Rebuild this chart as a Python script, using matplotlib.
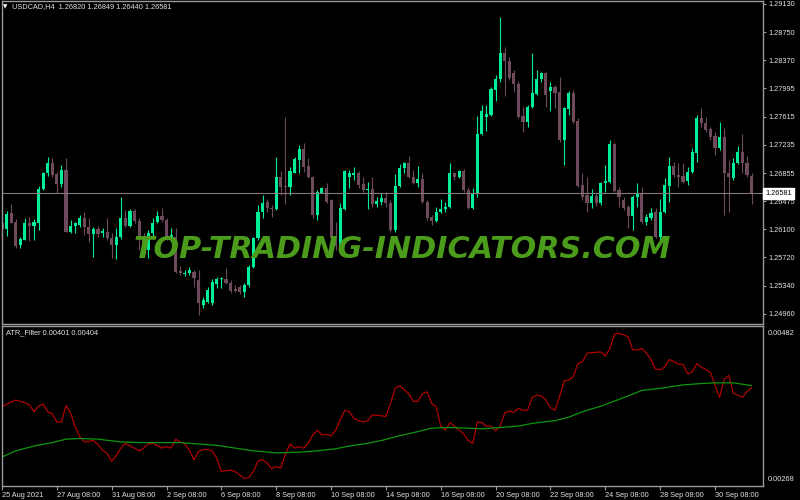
# USDCAD H4 candles with ATR_Filter sub-window (MT4 style)
import matplotlib
matplotlib.use('Agg')
import matplotlib.pyplot as plt
import matplotlib.transforms as mtransforms

# OHLC for each H4 bar
opens = [1.26182, 1.26102, 1.26317, 1.26196, 1.25886, 1.25954, 1.26182, 1.26142, 1.26182, 1.26640,
         1.26855, 1.26990, 1.26842, 1.26707, 1.26896, 1.26061, 1.26142, 1.26156, 1.26250, 1.26129,
         1.26034, 1.26102, 1.26048, 1.26061, 1.25980, 1.25886, 1.25994, 1.26250, 1.26142, 1.26344,
         1.26209, 1.25994, 1.25819, 1.26048, 1.26196, 1.26277, 1.26223, 1.25954, 1.25994, 1.25536,
         1.25496, 1.25509, 1.25523, 1.25415, 1.25079, 1.25119, 1.25106, 1.25361, 1.25429, 1.25429,
         1.25375, 1.25294, 1.25321, 1.25254, 1.25348, 1.25590, 1.25980, 1.26330, 1.26465, 1.26384,
         1.26371, 1.26802, 1.26680, 1.26667, 1.26855, 1.27030, 1.27178, 1.26950, 1.26802, 1.26290,
         1.26586, 1.26653, 1.26492, 1.25980, 1.25846, 1.26371, 1.26802, 1.26828, 1.26855, 1.26707,
         1.26627, 1.26640, 1.26438, 1.26465, 1.26519, 1.26452, 1.26088, 1.26680, 1.26923, 1.26990,
         1.26802, 1.26721, 1.26775, 1.26465, 1.26263, 1.26209, 1.26330, 1.26371, 1.26398, 1.26855,
         1.26802, 1.26882, 1.26627, 1.26384, 1.26586, 1.27380, 1.27609, 1.27636, 1.27973, 1.28121,
         1.28471, 1.28363, 1.28201, 1.28053, 1.27623, 1.27542, 1.27744, 1.27919, 1.28121, 1.28201,
         1.27959, 1.28013, 1.27946, 1.27300, 1.27717, 1.27932, 1.27555, 1.26694, 1.26559, 1.26452,
         1.26546, 1.26452, 1.26721, 1.26734, 1.27246, 1.26627, 1.26492, 1.26398, 1.26277, 1.26532,
         1.26586, 1.26196, 1.26250, 1.26330, 1.25994, 1.26330, 1.26680, 1.26950, 1.26828, 1.26815,
         1.26748, 1.26869, 1.27125, 1.27596, 1.27528, 1.27448, 1.27353, 1.27192, 1.27340, 1.26855,
         1.26788, 1.26990, 1.27138, 1.26990, 1.26820]
highs = [1.26250, 1.26344, 1.26438, 1.26236, 1.25994, 1.26250, 1.26263, 1.26236, 1.26680, 1.26869,
         1.27071, 1.27057, 1.26869, 1.26963, 1.27057, 1.26223, 1.26196, 1.26290, 1.26330, 1.26250,
         1.26129, 1.26142, 1.26115, 1.26250, 1.26048, 1.26115, 1.26532, 1.26357, 1.26371, 1.26371,
         1.26250, 1.26048, 1.26088, 1.26250, 1.26344, 1.26384, 1.26250, 1.26115, 1.26115, 1.25604,
         1.25550, 1.25590, 1.25550, 1.25550, 1.25186, 1.25321, 1.25429, 1.25456, 1.25456, 1.25577,
         1.25415, 1.25348, 1.25348, 1.25375, 1.25617, 1.25994, 1.26425, 1.26559, 1.26505, 1.26425,
         1.27071, 1.26882, 1.27609, 1.26936, 1.27071, 1.27232, 1.27259, 1.27057, 1.26815, 1.26627,
         1.26667, 1.26721, 1.26505, 1.26196, 1.26452, 1.26896, 1.26896, 1.26936, 1.26882, 1.26802,
         1.26734, 1.26802, 1.26532, 1.26586, 1.26600, 1.26492, 1.26842, 1.26977, 1.27003, 1.27084,
         1.26896, 1.26950, 1.26855, 1.26492, 1.26290, 1.26398, 1.26505, 1.26465, 1.26990, 1.26869,
         1.26896, 1.26909, 1.26667, 1.26653, 1.27623, 1.27771, 1.27771, 1.28013, 1.28175, 1.28955,
         1.28551, 1.28417, 1.28242, 1.28094, 1.27744, 1.27771, 1.28471, 1.28242, 1.28215, 1.28215,
         1.28080, 1.28040, 1.28148, 1.27744, 1.27959, 1.27973, 1.27596, 1.26855, 1.26802, 1.26640,
         1.26586, 1.26734, 1.26963, 1.27300, 1.27259, 1.26667, 1.26532, 1.26425, 1.26559, 1.26721,
         1.26667, 1.26304, 1.26384, 1.26384, 1.26505, 1.26788, 1.27071, 1.27003, 1.26990, 1.26990,
         1.26936, 1.27192, 1.27636, 1.27730, 1.27609, 1.27475, 1.27407, 1.27542, 1.27461, 1.27030,
         1.27057, 1.27219, 1.27380, 1.27084, 1.26849]
lows = [1.25994, 1.26007, 1.26182, 1.25846, 1.25846, 1.25954, 1.25940, 1.25954, 1.26088, 1.26627,
        1.26815, 1.26802, 1.26586, 1.26667, 1.26061, 1.26048, 1.26048, 1.26129, 1.26021, 1.25927,
        1.25725, 1.25994, 1.25994, 1.25954, 1.25711, 1.25698, 1.25967, 1.26129, 1.26129, 1.26182,
        1.25819, 1.25779, 1.25711, 1.25994, 1.26182, 1.26196, 1.25954, 1.25927, 1.25509, 1.25482,
        1.25469, 1.25482, 1.25321, 1.24944, 1.25038, 1.25106, 1.25079, 1.25307, 1.25307, 1.25361,
        1.25240, 1.25254, 1.25227, 1.25186, 1.25321, 1.25577, 1.25954, 1.26250, 1.26330, 1.26263,
        1.26357, 1.26559, 1.26438, 1.26559, 1.26855, 1.26855, 1.26869, 1.26788, 1.26250, 1.26223,
        1.26586, 1.26452, 1.25954, 1.25819, 1.25819, 1.26357, 1.26653, 1.26761, 1.26653, 1.26600,
        1.26371, 1.26398, 1.26398, 1.26425, 1.26398, 1.26061, 1.26061, 1.26667, 1.26855, 1.26788,
        1.26707, 1.26667, 1.26452, 1.26223, 1.26156, 1.26196, 1.26317, 1.26330, 1.26384, 1.26761,
        1.26788, 1.26600, 1.26371, 1.26371, 1.26532, 1.27367, 1.27421, 1.27623, 1.27825, 1.28080,
        1.27892, 1.28107, 1.27946, 1.27596, 1.27407, 1.27475, 1.27730, 1.27905, 1.28080, 1.27744,
        1.27690, 1.27730, 1.27273, 1.26963, 1.27636, 1.27528, 1.26667, 1.26492, 1.26330, 1.26384,
        1.26411, 1.26425, 1.26600, 1.26721, 1.26600, 1.26398, 1.26357, 1.26115, 1.26088, 1.26398,
        1.26182, 1.26156, 1.26223, 1.25980, 1.25954, 1.26317, 1.26465, 1.26802, 1.26667, 1.26721,
        1.26694, 1.26855, 1.27003, 1.27475, 1.27407, 1.27300, 1.27098, 1.27165, 1.26290, 1.26330,
        1.26761, 1.26977, 1.26855, 1.26802, 1.26440]
closes = [1.26102, 1.26304, 1.26182, 1.25873, 1.25967, 1.26182, 1.26142, 1.26196, 1.26640, 1.26855,
          1.26990, 1.26828, 1.26707, 1.26896, 1.26061, 1.26142, 1.26182, 1.26250, 1.26129, 1.26034,
          1.26102, 1.26034, 1.26075, 1.25980, 1.25886, 1.25994, 1.26250, 1.26142, 1.26344, 1.26209,
          1.25994, 1.25819, 1.26048, 1.26182, 1.26277, 1.26223, 1.25994, 1.26021, 1.25523, 1.25509,
          1.25509, 1.25550, 1.25442, 1.25106, 1.25146, 1.25281, 1.25388, 1.25429, 1.25442, 1.25375,
          1.25267, 1.25267, 1.25254, 1.25348, 1.25590, 1.25980, 1.26330, 1.26452, 1.26384, 1.26371,
          1.26802, 1.26667, 1.26667, 1.26882, 1.27044, 1.27178, 1.26936, 1.26802, 1.26290, 1.26600,
          1.26653, 1.26465, 1.25980, 1.25873, 1.26384, 1.26882, 1.26855, 1.26855, 1.26694, 1.26627,
          1.26640, 1.26438, 1.26479, 1.26519, 1.26452, 1.26088, 1.26680, 1.26923, 1.26990, 1.26802,
          1.26721, 1.26775, 1.26465, 1.26250, 1.26209, 1.26330, 1.26371, 1.26398, 1.26855, 1.26802,
          1.26882, 1.26627, 1.26384, 1.26586, 1.27380, 1.27690, 1.27650, 1.27986, 1.28121, 1.28471,
          1.28363, 1.28134, 1.28053, 1.27609, 1.27542, 1.27744, 1.27932, 1.28121, 1.28201, 1.27905,
          1.28013, 1.27932, 1.27300, 1.27730, 1.27932, 1.27542, 1.26680, 1.26532, 1.26452, 1.26546,
          1.26452, 1.26721, 1.26748, 1.27246, 1.26613, 1.26532, 1.26384, 1.26277, 1.26532, 1.26586,
          1.26196, 1.26263, 1.26317, 1.25994, 1.26330, 1.26694, 1.26950, 1.26828, 1.26802, 1.26734,
          1.26869, 1.27138, 1.27596, 1.27528, 1.27434, 1.27340, 1.27192, 1.27340, 1.26855, 1.26802,
          1.26990, 1.27138, 1.26990, 1.26828, 1.26581]

# ATR_Filter: red line (ATR) and green line (its average), bar index -> value
atr_bars = [0, 1, 3, 5, 6, 7, 8, 9, 10, 11, 12, 13, 14, 15, 16, 17, 18, 20, 21, 22,
            23, 24, 25, 26, 27, 28, 29, 30, 31, 32, 33, 35, 36, 37, 38, 39, 40, 41, 42, 43,
            44, 45, 46, 47, 48, 50, 51, 53, 54, 55, 56, 57, 58, 59, 60, 61, 62, 63, 64, 65,
            66, 67, 68, 69, 70, 71, 72, 73, 74, 75, 76, 77, 78, 79, 80, 81, 82, 84, 85, 86,
            87, 88, 89, 90, 91, 92, 93, 94, 95, 96, 97, 98, 99, 100, 101, 102, 103, 104, 105, 106,
            107, 108, 109, 110, 111, 112, 113, 114, 115, 116, 117, 118, 119, 120, 121, 122, 123, 124, 125, 126,
            127, 128, 129, 131, 132, 133, 134, 135, 136, 137, 138, 139, 140, 141, 142, 143, 144, 145, 146, 147,
            148, 149, 150, 151, 152, 153, 154, 155, 156, 157, 158, 159, 160, 161, 162, 163, 164]
atr_vals = [0.00373, 0.00377, 0.00383, 0.00379, 0.00376, 0.00366, 0.00374, 0.00377, 0.00366, 0.00363,
            0.00351, 0.00351, 0.00375, 0.00364, 0.00344, 0.00330, 0.00322, 0.00324, 0.00318, 0.00310,
            0.00305, 0.00294, 0.00302, 0.00313, 0.00320, 0.00316, 0.00313, 0.00309, 0.00313, 0.00319,
            0.00320, 0.00313, 0.00315, 0.00313, 0.00326, 0.00322, 0.00319, 0.00310, 0.00296, 0.00308,
            0.00311, 0.00311, 0.00309, 0.00298, 0.00279, 0.00281, 0.00279, 0.00269, 0.00270, 0.00279,
            0.00294, 0.00296, 0.00291, 0.00283, 0.00286, 0.00284, 0.00304, 0.00319, 0.00313, 0.00315,
            0.00313, 0.00320, 0.00332, 0.00339, 0.00332, 0.00333, 0.00331, 0.00339, 0.00354, 0.00368,
            0.00366, 0.00356, 0.00353, 0.00351, 0.00353, 0.00361, 0.00361, 0.00359, 0.00378, 0.00400,
            0.00404, 0.00398, 0.00392, 0.00381, 0.00381, 0.00392, 0.00395, 0.00378, 0.00373, 0.00345,
            0.00339, 0.00350, 0.00345, 0.00339, 0.00334, 0.00324, 0.00320, 0.00351, 0.00350, 0.00345,
            0.00345, 0.00338, 0.00345, 0.00364, 0.00367, 0.00365, 0.00371, 0.00368, 0.00368, 0.00387,
            0.00390, 0.00389, 0.00383, 0.00372, 0.00368, 0.00388, 0.00411, 0.00412, 0.00417, 0.00436,
            0.00439, 0.00451, 0.00452, 0.00453, 0.00447, 0.00458, 0.00479, 0.00480, 0.00478, 0.00475,
            0.00456, 0.00456, 0.00458, 0.00451, 0.00442, 0.00428, 0.00427, 0.00431, 0.00442, 0.00439,
            0.00435, 0.00435, 0.00421, 0.00424, 0.00436, 0.00431, 0.00427, 0.00423, 0.00405, 0.00387,
            0.00413, 0.00419, 0.00393, 0.00390, 0.00387, 0.00395, 0.00401]
avg_bars = [0, 3, 7, 11, 14, 17, 21, 26, 30, 35, 39, 43, 47, 51, 55, 60, 65, 69, 73, 76,
            80, 83, 87, 91, 94, 98, 102, 105, 109, 113, 116, 121, 124, 127, 131, 133, 137, 140, 144, 149,
            153, 156, 160, 164]
avg_vals = [0.00300, 0.00309, 0.00316, 0.00321, 0.00326, 0.00327, 0.00326, 0.00322, 0.00321, 0.00321,
            0.00321, 0.00319, 0.00317, 0.00313, 0.00309, 0.00306, 0.00307, 0.00309, 0.00312, 0.00316,
            0.00320, 0.00324, 0.00331, 0.00337, 0.00342, 0.00343, 0.00342, 0.00341, 0.00343, 0.00345,
            0.00349, 0.00353, 0.00358, 0.00366, 0.00374, 0.00379, 0.00389, 0.00397, 0.00400, 0.00405,
            0.00407, 0.00408, 0.00408, 0.00404]

price_ticks = [1.29130, 1.28750, 1.28370, 1.27995, 1.27615, 1.27235, 1.26855,
               1.26475, 1.26100, 1.25720, 1.25340, 1.24960]
last_price = 1.26581
date_bars = [0, 12, 24, 36, 48, 60, 72, 84, 96, 108, 120, 132, 144, 156]
date_labels = ['25 Aug 2021', '27 Aug 08:00', '31 Aug 08:00', '2 Sep 08:00', '6 Sep 08:00',
               '8 Sep 08:00', '10 Sep 08:00', '14 Sep 08:00', '16 Sep 08:00', '20 Sep 08:00',
               '22 Sep 08:00', '24 Sep 08:00', '28 Sep 08:00', '30 Sep 08:00']

bull_col = '#00EE98'
bear_col = '#6E4B5C'
frame_col = '#9A9A9A'
text_col = '#E2E2E2'
font = 'Liberation Sans'
fsize = 5.3

fig = plt.figure(figsize=(8, 5), dpi=100, facecolor='black')


def px_axes(x0, y0, x1, y1):
    # axes placed by pixel box (origin top-left)
    return fig.add_axes([x0 / 800, 1 - y1 / 500, (x1 - x0) / 800, (y1 - y0) / 500])


ax = px_axes(1.5, 0.5, 763, 323.5)
ax2 = px_axes(1.5, 325.5, 763, 486)
for a in (ax, ax2):
    a.set_facecolor('black')
    a.set_xlim(-0.11, 166.5)
    for s in a.spines.values():
        s.set_color(frame_col)
        s.set_linewidth(1.0)

# candles
bars = list(range(len(opens)))
cols = [bull_col if c >= o else bear_col for o, c in zip(opens, closes)]
ax.vlines(bars, lows, highs, colors=cols, linewidth=0.8)
ax.bar(bars, [max(abs(c - o), 0.00012) for o, c in zip(opens, closes)],
       bottom=[min(o, c) for o, c in zip(opens, closes)],
       width=0.68, color=cols, linewidth=0)
ax.axhline(last_price, color='#85797E', linewidth=0.8)
ax.set_ylim(1.24830, 1.29177)

ax.set_xticks([])
ax.yaxis.tick_right()
ax.set_yticks(price_ticks)
ax.set_yticklabels(['%.5f' % p for p in price_ticks], family=font)
ax.tick_params(axis='y', colors=frame_col, labelcolor=text_col, length=2.5,
               width=0.8, labelsize=fsize, pad=1.5)
ax.text(1.003, last_price, '%.5f' % last_price, family=font, fontsize=fsize,
        color='black', ha='left', va='center',
        transform=mtransforms.blended_transform_factory(ax.transAxes, ax.transData),
        bbox=dict(boxstyle='square,pad=0.25', fc='white', ec='white'))

# indicator window
ax2.plot(atr_bars, atr_vals, color='#B00000', linewidth=0.9)
ax2.plot(avg_bars, avg_vals, color='#0E960E', linewidth=0.9)
ax2.set_ylim(0.002578, 0.004915)
ax2.yaxis.tick_right()
ax2.set_yticks([0.00268, 0.00482])
ax2.set_yticklabels(['0.00268', '0.00482'], family=font)
ax2.tick_params(axis='y', colors=frame_col, labelcolor=text_col, length=0,
                labelsize=fsize, pad=3.5)
ax2.set_xticks(date_bars)
ax2.set_xticklabels(date_labels, family=font, ha='left')
ax2.tick_params(axis='x', colors=frame_col, labelcolor=text_col, length=3,
                width=0.8, labelsize=fsize, pad=1.5)
ax2.text(4 / 761.5, 0.955, 'ATR_Filter 0.00401 0.00404', transform=ax2.transAxes,
         family=font, fontsize=fsize, color=text_col, ha='left', va='center')

# header and watermark
fig.text(3 / 800, 1 - 6.5 / 500, '\u25bc', fontsize=4, color='white', va='center')
fig.text(12 / 800, 1 - 6.5 / 500, 'USDCAD,H4  1.26820 1.26849 1.26440 1.26581',
         family=font, fontsize=fsize, color=text_col, va='center')
fig.text(402 / 800, 1 - 249 / 500, 'TOP-TRADING-INDICATORS.COM', ha='center', va='center',
         fontsize=21.7, fontweight='bold', style='italic', color='#4C9C1C',
         family='DejaVu Sans', zorder=10)

fig.savefig('out.png', dpi=100, facecolor='black')
